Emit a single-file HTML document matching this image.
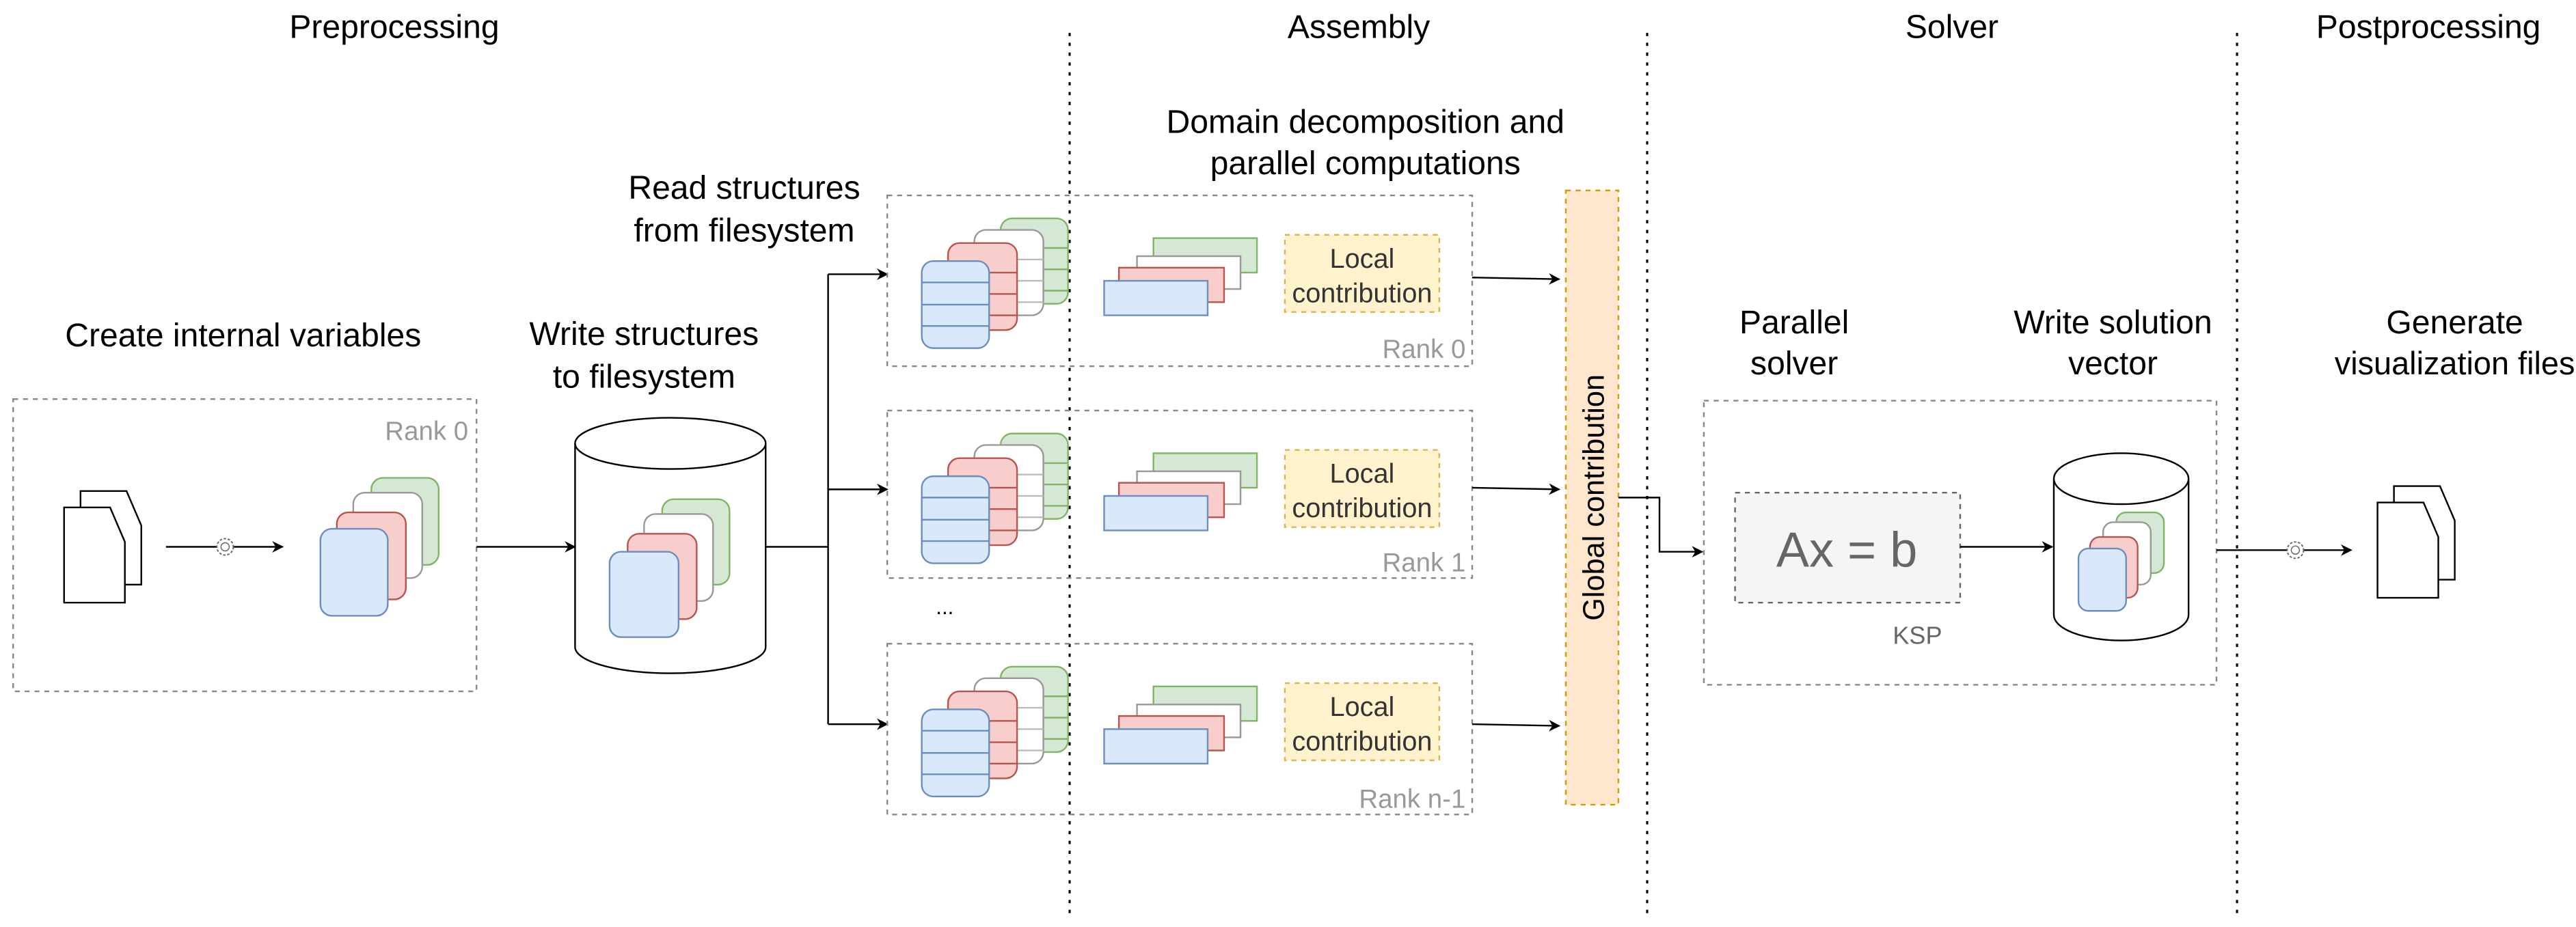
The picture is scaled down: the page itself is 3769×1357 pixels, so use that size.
<!DOCTYPE html>
<html><head><meta charset="utf-8"><style>html,body{margin:0;padding:0;background:#fff}svg{display:block}text{font-family:"Liberation Sans",Arial,sans-serif}</style></head>
<body>
<svg width="3769" height="1357" viewBox="0 0 1567.8 564.5" preserveAspectRatio="none" xmlns="http://www.w3.org/2000/svg">
<defs>
<marker id="ar" viewBox="0 0 10 10" refX="9" refY="5" markerWidth="7" markerHeight="7" orient="auto" markerUnits="userSpaceOnUse"><path d="M0,0 L10,5 L0,10 L3,5 Z" fill="#000"/></marker>
<g id="stk">
 <rect x="609" y="133" width="41" height="52" rx="7" fill="#d5e8d4" stroke="#82b366"/>
 <line x1="609" y1="151" x2="650" y2="151" stroke="#82b366"/><line x1="609" y1="164" x2="650" y2="164" stroke="#82b366"/><line x1="609" y1="177" x2="650" y2="177" stroke="#82b366"/>
 <rect x="593" y="140" width="42" height="52" rx="7" fill="#fff" stroke="#999"/>
 <line x1="593" y1="158" x2="635" y2="158" stroke="#bbb"/><line x1="593" y1="171" x2="635" y2="171" stroke="#bbb"/><line x1="593" y1="184" x2="635" y2="184" stroke="#bbb"/>
 <rect x="577" y="148" width="42" height="53" rx="7" fill="#f8cecc" stroke="#b85450"/>
 <line x1="577" y1="166" x2="619" y2="166" stroke="#b85450"/><line x1="577" y1="179" x2="619" y2="179" stroke="#b85450"/><line x1="577" y1="192" x2="619" y2="192" stroke="#b85450"/>
 <rect x="561" y="159" width="41" height="53" rx="7" fill="#dae8fc" stroke="#6c8ebf"/>
 <line x1="561" y1="172" x2="602" y2="172" stroke="#6c8ebf"/><line x1="561" y1="185.5" x2="602" y2="185.5" stroke="#6c8ebf"/><line x1="561" y1="198.5" x2="602" y2="198.5" stroke="#6c8ebf"/>
 <rect x="702" y="145" width="63" height="21" fill="#d5e8d4" stroke="#82b366"/>
 <rect x="692" y="156" width="63" height="20" fill="#fff" stroke="#999"/>
 <rect x="681" y="163" width="64" height="21" fill="#f8cecc" stroke="#b85450"/>
 <rect x="672" y="171" width="63" height="21" fill="#dae8fc" stroke="#6c8ebf"/>
 <rect x="782" y="143" width="94" height="47" fill="#fff2cc" stroke="#d6b656" stroke-dasharray="3,3"/>
 <text x="829" y="163" font-size="16.5" text-anchor="middle" fill="#333">Local</text>
 <text x="829" y="184" font-size="16.5" text-anchor="middle" fill="#333">contribution</text>
</g>
<g id="doc">
 <path d="M10,0 H38 L47,21 V57 H10 Z" fill="#fff" stroke="#000" stroke-width="1"/>
 <path d="M0,10 H28 L37,31 V68 H0 Z" fill="#fff" stroke="#000" stroke-width="1"/>
</g>
<g id="gear"><circle r="5" fill="#fff" stroke="#666" stroke-width="0.8" stroke-dasharray="1.5,1"/><circle r="2.5" fill="none" stroke="#666" stroke-width="0.6"/></g>
</defs>

<g font-size="20" text-anchor="middle" fill="#000">
<text x="240" y="23">Preprocessing</text>
<text x="827" y="23">Assembly</text>
<text x="1188" y="23">Solver</text>
<text x="1478" y="23">Postprocessing</text>
<text x="148" y="211">Create internal variables</text>
<text x="392" y="210">Write structures</text>
<text x="392" y="236">to filesystem</text>
<text x="453" y="121">Read structures</text>
<text x="453" y="147">from filesystem</text>
<text x="831" y="81">Domain decomposition and</text>
<text x="831" y="106">parallel computations</text>
<text x="1092" y="203">Parallel</text>
<text x="1092" y="228">solver</text>
<text x="1286" y="203">Write solution</text>
<text x="1286" y="228">vector</text>
<text x="1494" y="203">Generate</text>
<text x="1494" y="228" font-size="19.5">visualization files</text>
</g>

<g stroke="#000" stroke-width="1.3" stroke-dasharray="2,4">
<line x1="651" y1="20" x2="651" y2="556"/>
<line x1="1002.5" y1="20" x2="1002.5" y2="556"/>
<line x1="1361.5" y1="20" x2="1361.5" y2="556"/>
</g>

<rect x="8" y="243" width="282" height="178" fill="none" stroke="#888" stroke-dasharray="3,3"/>
<text x="285" y="268" font-size="16" fill="#999" text-anchor="end">Rank 0</text>
<use href="#doc" x="39" y="299"/>
<line x1="101" y1="333" x2="172" y2="333" stroke="#000" marker-end="url(#ar)"/>
<use href="#gear" x="137" y="333"/>
<rect x="226" y="291" width="41" height="53" rx="7" fill="#d5e8d4" stroke="#82b366"/>
<rect x="215" y="300" width="42" height="52" rx="7" fill="#fff" stroke="#999"/>
<rect x="205" y="312" width="42" height="53" rx="7" fill="#f8cecc" stroke="#b85450"/>
<rect x="195" y="322" width="41" height="53" rx="7" fill="#dae8fc" stroke="#6c8ebf"/>
<line x1="290" y1="333" x2="350" y2="333" stroke="#000" marker-end="url(#ar)"/>

<path d="M350,270 V394 A58,16 0 0 0 466,394 V270" fill="#fff" stroke="#000"/>
<ellipse cx="408" cy="270" rx="58" ry="15.6" fill="#fff" stroke="#000"/>
<rect x="403" y="304" width="41" height="52" rx="7" fill="#d5e8d4" stroke="#82b366"/>
<rect x="392" y="313" width="42" height="53" rx="7" fill="#fff" stroke="#999"/>
<rect x="382" y="325" width="42" height="52" rx="7" fill="#f8cecc" stroke="#b85450"/>
<rect x="371" y="336" width="42" height="52" rx="7" fill="#dae8fc" stroke="#6c8ebf"/>

<path d="M466,333 H504" fill="none" stroke="#000"/>
<line x1="504" y1="167" x2="504" y2="441" stroke="#000"/>
<line x1="504" y1="167" x2="540" y2="167" stroke="#000" marker-end="url(#ar)"/>
<line x1="504" y1="298" x2="540" y2="298" stroke="#000" marker-end="url(#ar)"/>
<line x1="504" y1="441" x2="540" y2="441" stroke="#000" marker-end="url(#ar)"/>

<g fill="none" stroke="#888" stroke-dasharray="3,3">
<rect x="540" y="119" width="356" height="104"/>
<rect x="540" y="250" width="356" height="102"/>
<rect x="540" y="392" width="356" height="104"/>
</g>
<use href="#stk"/>
<use href="#stk" y="131"/>
<use href="#stk" y="273"/>
<g font-size="16" fill="#999" text-anchor="end">
<text x="892" y="218">Rank 0</text>
<text x="892" y="348">Rank 1</text>
<text x="892" y="492">Rank n-1</text>
</g>
<text x="575" y="374" font-size="13" text-anchor="middle">...</text>
<line x1="896" y1="169" x2="949" y2="170" stroke="#000" marker-end="url(#ar)"/>
<line x1="896" y1="297" x2="949" y2="298" stroke="#000" marker-end="url(#ar)"/>
<line x1="896" y1="441" x2="949" y2="442" stroke="#000" marker-end="url(#ar)"/>

<rect x="953" y="116" width="32" height="374" fill="#ffe6cc" stroke="#d79b00" stroke-dasharray="3,3"/>
<text transform="translate(976,303) rotate(-90)" font-size="18" text-anchor="middle" fill="#000">Global contribution</text>
<path d="M985,303 H1010 V336 H1036" fill="none" stroke="#000" marker-end="url(#ar)"/>

<rect x="1037" y="244" width="312" height="173" fill="none" stroke="#888" stroke-dasharray="3,3"/>
<rect x="1056" y="300" width="137" height="67" fill="#f5f5f5" stroke="#666" stroke-dasharray="3,3"/>
<text x="1124" y="345" font-size="30" text-anchor="middle" fill="#666">Ax = b</text>
<text x="1167" y="392" font-size="15" text-anchor="middle" fill="#666">KSP</text>
<line x1="1193" y1="333" x2="1249" y2="333" stroke="#000" marker-end="url(#ar)"/>
<path d="M1250,291.5 V374.5 A41,15.5 0 0 0 1332,374.5 V291.5" fill="#fff" stroke="#000"/>
<ellipse cx="1291" cy="291.5" rx="41" ry="15.5" fill="#fff" stroke="#000"/>
<rect x="1288" y="312" width="29" height="37" rx="6" fill="#d5e8d4" stroke="#82b366"/>
<rect x="1280" y="318" width="29" height="38" rx="6" fill="#fff" stroke="#999"/>
<rect x="1272" y="327" width="29" height="37" rx="6" fill="#f8cecc" stroke="#b85450"/>
<rect x="1265" y="334" width="29" height="38" rx="6" fill="#dae8fc" stroke="#6c8ebf"/>

<line x1="1349" y1="335" x2="1431" y2="335" stroke="#000" marker-end="url(#ar)"/>
<use href="#gear" x="1397" y="335"/>
<use href="#doc" x="1447" y="296"/>
</svg>
</body></html>
